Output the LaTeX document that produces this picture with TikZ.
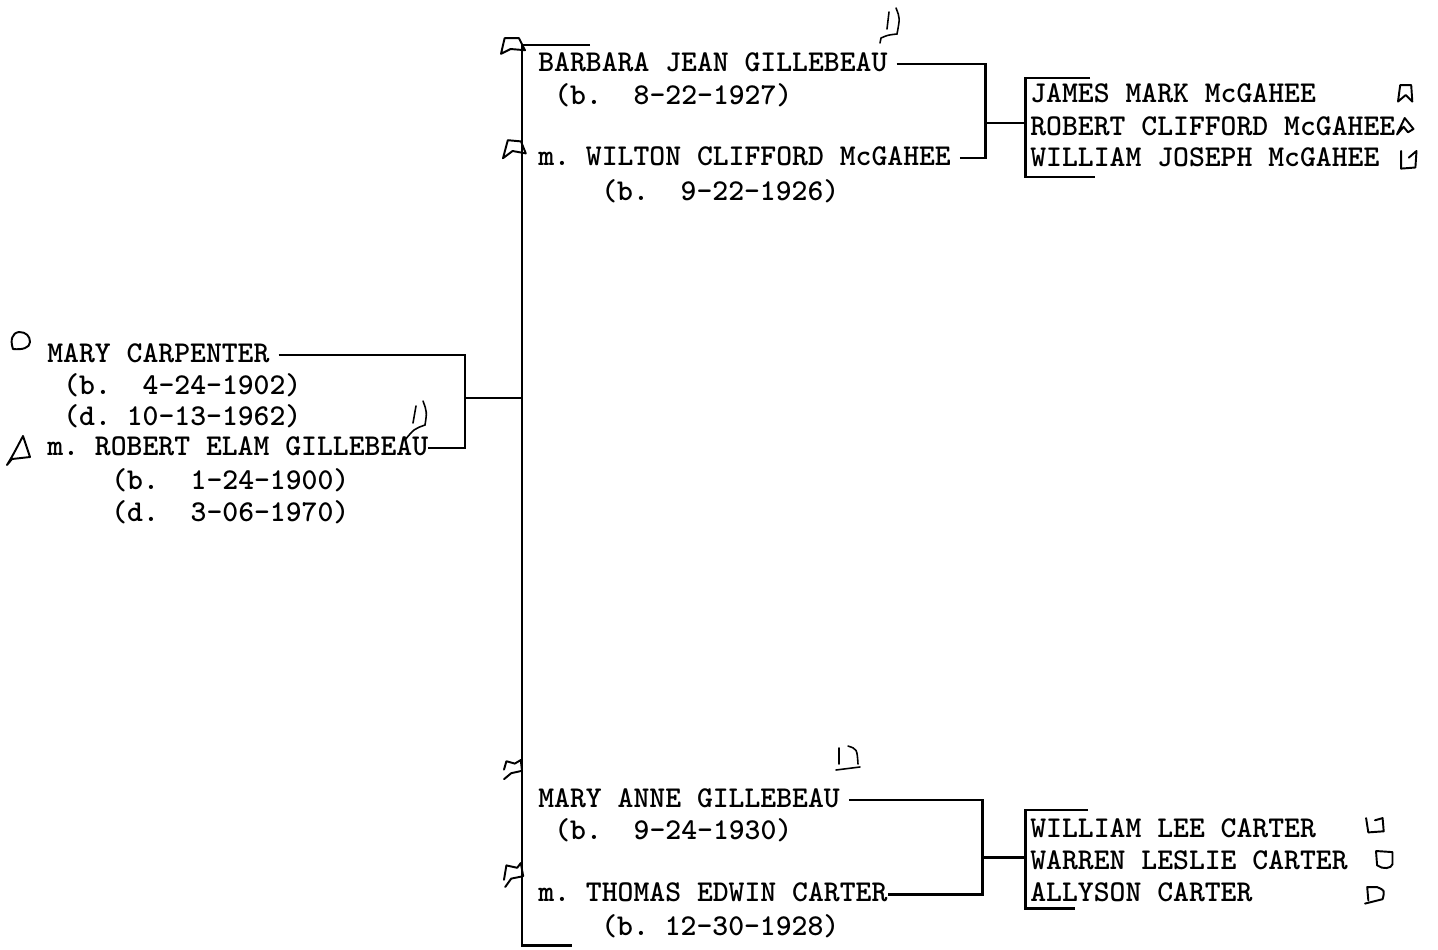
\documentclass[tikz,border=0pt]{standalone}
\usepackage{fontspec}
\usepackage{tikz}
\usetikzlibrary{positioning}
\tikzset{
person/.style={font=\ttfamily\bfseries\fontsize{17.2}{20}\selectfont,inner sep=0pt,text height=9pt,text depth=0pt,anchor=west},
link/.style={line width=1.7pt,black},
gap/.style={shorten <=5pt},
handmark/.style={line width=1.1pt,line join=round,line cap=round},
handnote/.style={line width=0.9pt,line cap=round}
}

\begin{document}
\begin{tikzpicture}[x=0.02cm,y=-0.02cm]
\useasboundingbox (0,0) rectangle (1438,950);
% parents
\node[person] (mary) at (47,355) {MARY CARPENTER};
\node[person,below right=0.64cm and 0.32cm of mary.west,anchor=west] (maryb) {(b.~~4-24-1902)};
\node[person,below=0.62cm of maryb.west,anchor=west] (maryd) {(d.~10-13-1962)};
\node[person] (robert) at (47,448) {m.~ROBERT ELAM GILLEBEAU};
\node[person,below right=0.68cm and 1.28cm of robert.west,anchor=west] (robertb) {(b.~~1-24-1900)};
\node[person,below=0.64cm of robertb.west,anchor=west] (robertd) {(d.~~3-06-1970)};
% first family
\node[person] (barbara) at (538,64) {BARBARA JEAN GILLEBEAU};
\node[person,below right=0.66cm and 0.32cm of barbara.west,anchor=west] (barbarab) {(b.~~8-22-1927)};
\node[person] (wilton) at (538,158) {m.~WILTON CLIFFORD McGAHEE};
\node[person,below right=0.7cm and 1.26cm of wilton.west,anchor=west] (wiltonb) {(b.~~9-22-1926)};
\node[person] (james) at (1030,95) {JAMES MARK McGAHEE};
\node[person,below=0.66cm of james.west,anchor=west] (robertc) {ROBERT CLIFFORD McGAHEE};
\node[person,below=0.62cm of robertc.west,anchor=west] (william) {WILLIAM JOSEPH McGAHEE};
% second family
\node[person] (maryanne) at (538,800) {MARY ANNE GILLEBEAU};
\node[person,below right=0.64cm and 0.32cm of maryanne.west,anchor=west] (maryanneb) {(b.~~9-24-1930)};
\node[person] (thomas) at (538,894) {m.~THOMAS EDWIN CARTER};
\node[person,below right=0.68cm and 1.26cm of thomas.west,anchor=west] (thomasb) {(b.~12-30-1928)};
\node[person] (williaml) at (1030,830) {WILLIAM LEE CARTER};
\node[person,below=0.64cm of williaml.west,anchor=west] (warren) {WARREN LESLIE CARTER};
\node[person,below=0.64cm of warren.west,anchor=west] (allyson) {ALLYSON CARTER};
% brackets
\coordinate (lj) at (465,398);
\coordinate (trunktop) at (522,45);
\coordinate (trunkbot) at (522,945);
\coordinate (trunktopend) at (590,45);
\coordinate (trunkbotend) at (572,945);
\draw[link,gap] (mary.east) -| (lj) |- (robert.east);
\draw[link] (lj) -- (lj -| trunktop);
\draw[link] (trunktopend) -- (trunktop) -- (trunkbot) -- (trunkbotend);
\coordinate (tj) at (985,123);
\coordinate (ktop) at (1025,78);
\coordinate (kbot) at (1025,177);
\coordinate (ktopend) at (1090,78);
\coordinate (kbotend) at (1095,177);
\draw[link,gap] (barbara.east) -| (tj);
\draw[link,gap] (wilton.east) -| (tj);
\draw[link] (tj) -- (tj -| ktop);
\draw[link] (ktopend) -- (ktop) -- (kbot) -- (kbotend);
\coordinate (bj) at (982,857);
\coordinate (ctop) at (1025,810);
\coordinate (cbot) at (1025,908);
\coordinate (ctopend) at (1088,810);
\coordinate (cbotend) at (1075,908);
\draw[link,gap] (maryanne.east) -| (bj) |- (thomas.east);
\draw[link] (bj) -- (bj -| ctop);
\draw[link] (ctopend) -- (ctop) -- (cbot) -- (cbotend);
% hand marks
\draw[handmark] (13,349) .. controls (10,340) and (12,333) .. (19,332) .. controls (26,332) and (30,336) .. (30,342) .. controls (30,348) and (22,350) .. (13,349);
\draw[handmark] (7,465) .. controls (13,455) .. (23,436) -- (30,457) -- (12,459) -- (7,465);
\draw[handmark,shift={(501,37)},scale=1.2] (0,14) .. controls (2,8) .. (3,1) -- (15,1) -- (20,11) -- (8,10) -- (0,14);
\draw[handmark,shift={(503,139)},scale=1.2] (0,16) .. controls (2,8) .. (4,1) -- (15,2) -- (19,12) -- (8,10) -- (0,16);
\draw[handmark,shift={(504,760)},scale=1.2] (0,8) -- (2,1) -- (9,3) -- (14,0) -- (15,9) -- (6,11) -- (0,16);
\draw[handmark,shift={(504,863)},scale=1.2] (0,14) -- (2,2) -- (11,4) -- (14,0) -- (16,11) -- (6,13) -- (1,20);
\draw[handmark,shift={(1398,84)},scale=1.1] (0,16) .. controls (1,8) .. (2,1) -- (12,1) -- (13,16) -- (7,10) -- (0,16);
\draw[handmark,shift={(1397,118)},scale=1.1] (0,15) -- (7,0) -- (15,10) -- (10,13) -- (6,8) -- (0,15);
\draw[handmark,shift={(1400,151)},scale=1.1] (1,0) -- (1,16) -- (14,15) -- (15,0) -- (8,6);
\draw[handmark,shift={(1365,817)},scale=1.1] (1,1) -- (3,14) -- (17,13) -- (16,1) -- (9,3);
\draw[handmark,shift={(1376,851)},scale=1.1] (0,0) -- (1,13) .. controls (6,17) and (14,16) .. (15,12) -- (15,1) -- (0,0);
\draw[handmark,shift={(1365,886)},scale=1.1] (3,13) -- (2,1) -- (11,1) .. controls (18,4) .. (16,12) -- (0,16);
% notes
\draw[handnote] (889,12) -- (887,29);
\draw[handnote] (896,8) .. controls (900,18) .. (897,34) .. controls (888,35) .. (881,38) -- (880,43);
\draw[handnote] (416,406) -- (413,423);
\draw[handnote] (423,401) .. controls (427,412) .. (425,425) .. controls (414,429) .. (405,440);
\draw[handnote] (839,748) -- (839,764);
\draw[handnote] (848,746) .. controls (857,749) .. (858,764);
\draw[handnote] (836,770) -- (860,767);
\end{tikzpicture}
\end{document}
